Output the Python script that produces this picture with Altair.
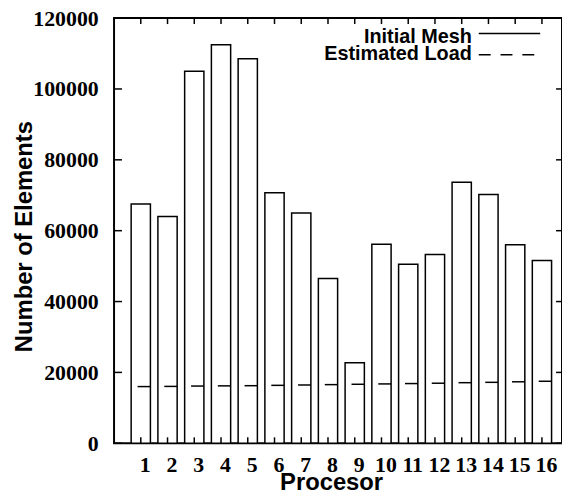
import altair as alt
import pandas as pd

# ---- data ----
processors = list(range(1, 17))
initial_mesh = [67500, 64000, 105000, 112500, 108500, 70700, 65000, 46500,
                22700, 56200, 50500, 53300, 73700, 70200, 56000, 51600]
estimated_load = [16000, 16050, 16150, 16200, 16250, 16350, 16450, 16550,
                  16650, 16750, 16850, 16950, 17100, 17200, 17350, 17500]
y_ticks = [0, 20000, 40000, 60000, 80000, 100000, 120000]
legend_labels = ["Initial Mesh", "Estimated Load"]

W, H = 452, 429
XDOM = [0, 16.75]
YDOM = [0, 120000]
SERIF = "Liberation Serif"
SANS = "Liberation Sans"

df = pd.DataFrame({"proc": processors, "mesh": initial_mesh, "load": estimated_load})
xs = alt.Scale(domain=XDOM, nice=False, zero=False)
ys = alt.Scale(domain=YDOM, nice=False)

xaxis = alt.Axis(values=processors, format="d", ticks=False, tickSize=0,
                 domain=False, grid=False, labelFont=SERIF, labelFontSize=22,
                 labelFontWeight="bold", labelColor="black",
                 labelBaseline="alphabetic", labelPadding=28, labelOffset=4,
                 title="Procesor", titleFont=SANS, titleFontSize=24,
                 titleFontWeight="bold", titleColor="black",
                 titleX=219, titleY=47, titleAlign="center",
                 titleBaseline="alphabetic")
yaxis = alt.Axis(values=y_ticks, format="d", ticks=False, tickSize=0,
                 domain=False, grid=False, labelFont=SERIF, labelFontSize=22,
                 labelFontWeight="bold", labelColor="black", labelPadding=16,
                 title="Number of Elements", titleFont=SANS, titleFontSize=24,
                 titleFontWeight="bold", titleColor="black",
                 titleX=-83, titleY=220, titleAlign="center",
                 titleBaseline="alphabetic", titleAngle=-90)

bars = alt.Chart(df).transform_calculate(
    x0="datum.proc - 0.36", x1="datum.proc + 0.36", base="0"
).mark_bar(fill="white", stroke="black", strokeWidth=1.5).encode(
    x=alt.X("x0:Q", scale=xs, axis=xaxis),
    x2="x1:Q",
    y=alt.Y("mesh:Q", scale=ys, axis=yaxis),
    y2="base:Q",
)

load = alt.Chart(df).transform_calculate(
    x0="datum.proc - 0.12", x1="datum.proc + 0.36"
).mark_rule(color="black", strokeWidth=1.5).encode(
    x=alt.X("x0:Q", scale=xs, axis=xaxis),
    x2="x1:Q",
    y=alt.Y("load:Q", scale=ys, axis=yaxis),
)

ytdf = pd.DataFrame({"load": y_ticks})
xtdf = pd.DataFrame({"x0": processors})
ytl = alt.Chart(ytdf).mark_rule(color="black", strokeWidth=1.5).encode(
    y=alt.Y("load:Q", scale=ys, axis=yaxis), x=alt.value(0), x2=alt.value(8))
ytr = alt.Chart(ytdf).mark_rule(color="black", strokeWidth=1.5).encode(
    y=alt.Y("load:Q", scale=ys, axis=yaxis), x=alt.value(W - 6), x2=alt.value(W))
xtb = alt.Chart(xtdf).mark_rule(color="black", strokeWidth=1.5).encode(
    x=alt.X("x0:Q", scale=xs, axis=xaxis), y=alt.value(H - 6), y2=alt.value(H))
xtt = alt.Chart(xtdf).mark_rule(color="black", strokeWidth=1.5).encode(
    x=alt.X("x0:Q", scale=xs, axis=xaxis), y=alt.value(0), y2=alt.value(6))

def legend_text(label, y):
    return alt.Chart(alt.Data(values=[{"label": label}])).mark_text(
        font=SANS, fontSize=20, fontWeight="bold", align="right",
        baseline="alphabetic", color="black"
    ).encode(text="label:N", x=alt.value(361), y=alt.value(y))

leg1 = legend_text(legend_labels[0], 25)
leg2 = legend_text(legend_labels[1], 42.5)
leg_line1 = alt.Chart(alt.Data(values=[{"label": legend_labels[0]}])).mark_rule(
    color="black", strokeWidth=1.5).encode(
    x=alt.value(368), x2=alt.value(430), y=alt.value(15.5))
leg_line2 = alt.Chart(alt.Data(values=[{"label": legend_labels[1]}])).mark_rule(
    color="black", strokeWidth=1.5, strokeDash=[12, 10]).encode(
    x=alt.value(368), x2=alt.value(425), y=alt.value(37))

chart = alt.layer(
    bars, load, ytl, ytr, xtb, xtt, leg1, leg2, leg_line1, leg_line2
).properties(
    width=W, height=H,
    autosize=alt.AutoSizeParams(type="none"),
    padding={"left": 107, "top": 8, "right": 0, "bottom": 50},
    background="white",
).configure_view(stroke="black", strokeWidth=2)

chart.save("out.html", embed_options={"renderer": "svg", "actions": False})
